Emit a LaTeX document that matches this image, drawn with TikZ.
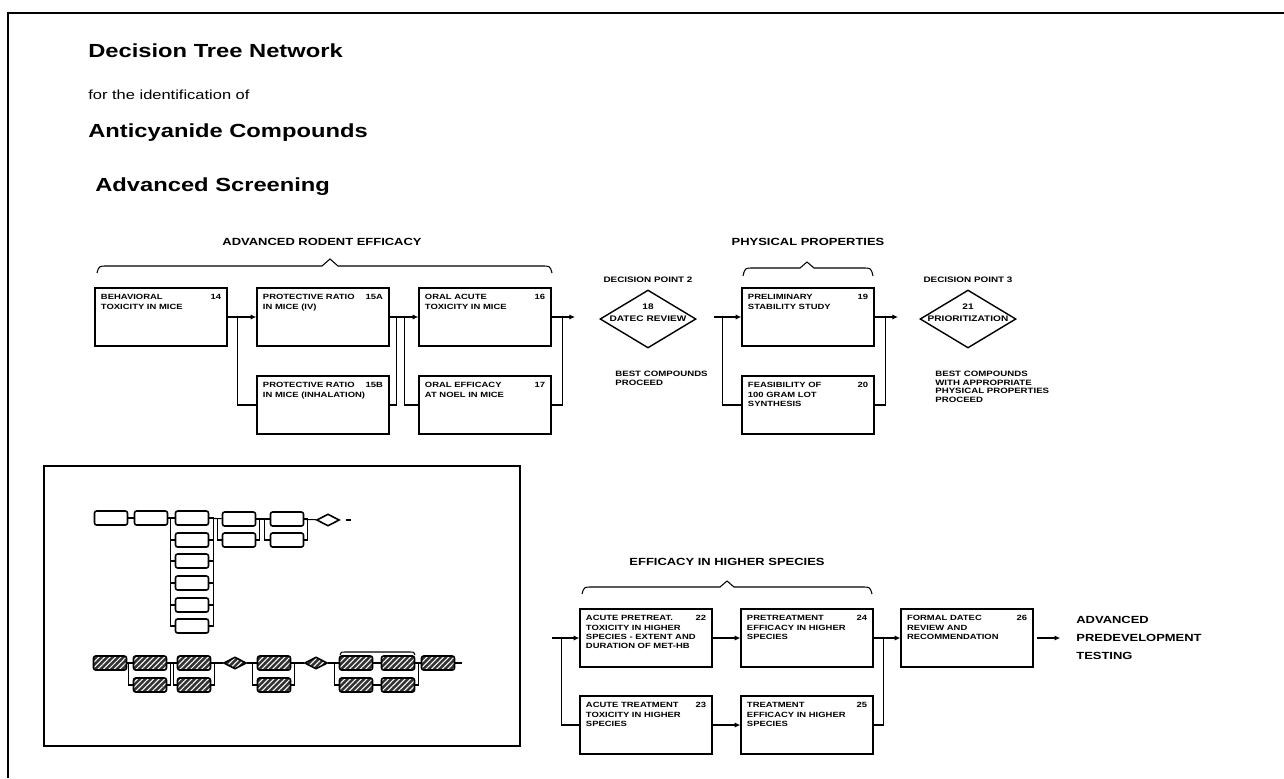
\documentclass[tikz,border=0pt]{standalone}
\usepackage{fontspec}
\setmainfont[FakeStretch=1.25]{Liberation Sans}
\usetikzlibrary{shapes.geometric,arrows.meta,patterns.meta}

\begin{document}
\begin{tikzpicture}[x=0.02cm,y=-0.02cm]
\tikzset{
  stepbox/.style={draw, line width=0.8pt, minimum width=2.64cm, minimum height=1.16cm, inner sep=0pt},
  boxtext/.style={font=\bfseries\fontsize{4.3}{5.2}\selectfont, align=left, inner xsep=3.6pt, inner ysep=4pt},
  decision/.style={draw, diamond, line width=0.8pt, minimum width=1.92cm, minimum height=1.16cm, inner sep=0pt},
  dtext/.style={font=\bfseries\fontsize{4.6}{7.2}\selectfont, align=center, inner sep=0pt},
  dlabel/.style={font=\bfseries\fontsize{4.5}{5}\selectfont, inner sep=0pt, label distance=3.5pt},
  group/.style={font=\bfseries\fontsize{5.9}{7}\selectfont, inner sep=0pt},
  note/.style={font=\bfseries\fontsize{4.4}{4.8}\selectfont, align=left, inner sep=0pt},
  line/.style={line width=0.6pt},
  flow/.style={line width=0.6pt, -{Latex[length=3.2pt,width=3pt]}},
  minibox/.style={draw, line width=0.9pt, rounded corners=1.2pt, minimum width=0.66cm, minimum height=0.28cm, inner sep=0pt},
  hatchbox/.style={minibox, preaction={fill=black!80}, pattern={Lines[angle=45,distance=2.2pt,line width=0.6pt]}, pattern color=white},
  minidia/.style={draw, diamond, line width=0.9pt, minimum width=0.46cm, minimum height=0.24cm, inner sep=0pt},
  hatchdia/.style={minidia, preaction={fill=black!80}, pattern={Lines[angle=45,distance=2.2pt,line width=0.6pt]}, pattern color=white},
}
\useasboundingbox (0,0) rectangle (1284,778);
\draw[line width=1.4pt] (8,778) -- (8,13) -- (1284,13);

% titles
\node[anchor=base west, inner sep=0pt, font=\bfseries\fontsize{10.8}{12}\selectfont] (title) at (88,57) {Decision Tree Network};
\node[anchor=base west, inner sep=0pt, font=\fontsize{7.5}{9}\selectfont] (sub) at (88,99) {for the identification of};
\node[anchor=base west, inner sep=0pt, font=\bfseries\fontsize{10.8}{12}\selectfont] (compounds) at (88,137) {Anticyanide Compounds};
\node[anchor=base west, inner sep=0pt, font=\bfseries\fontsize{10.8}{12}\selectfont] (screening) at (95,191) {Advanced Screening};

% advanced rodent efficacy
\node[group] (rodent) at (322,242) {ADVANCED RODENT EFFICACY};
\draw[line] (97,273) .. controls (99,266) .. (107,266) -- (322,266) -- (330,259) -- (338,266) -- (542,266) .. controls (550,266) .. (552,273);
\node[stepbox, label={[boxtext,anchor=north west]north west:{BEHAVIORAL\\TOXICITY IN MICE}}, label={[boxtext,anchor=north east]north east:14}] (b14) at (161,317) {};
\node[stepbox, label={[boxtext,anchor=north west]north west:{PROTECTIVE RATIO\\IN MICE (IV)}}, label={[boxtext,anchor=north east]north east:15A}] (b15a) at (323,317) {};
\node[stepbox, label={[boxtext,anchor=north west]north west:{PROTECTIVE RATIO\\IN MICE (INHALATION)}}, label={[boxtext,anchor=north east]north east:15B}] (b15b) at (323,405) {};
\node[stepbox, label={[boxtext,anchor=north west]north west:{ORAL ACUTE\\TOXICITY IN MICE}}, label={[boxtext,anchor=north east]north east:16}] (b16) at (485,317) {};
\node[stepbox, label={[boxtext,anchor=north west]north west:{ORAL EFFICACY\\AT NOEL IN MICE}}, label={[boxtext,anchor=north east]north east:17}] (b17) at (485,405) {};
\draw[flow] (b14) -- (b15a);
\draw[line] (b14.east) ++(10,0) |- (b15b.west);
\draw[flow] (b15a) -- (b16);
\draw[line] (b15b.east) -- ++(7,0) |- (b15a.east);
\draw[line] (b16.west) ++(-14,0) |- (b17.west);
\coordinate (o16) at (575,317);
\draw[flow] (b16) -- (o16);
\draw[line] (b17.east) -- ++(11,0) |- (b16.east);

% decision point 2
\node[decision, label={[dlabel]above:DECISION POINT 2}, label={[dtext,yshift=3.5pt]center:{18\\DATEC REVIEW}}] (d18) at (648,319) {};
\node[note, anchor=north west] (best2) at (615,371) {BEST COMPOUNDS\\PROCEED};

% physical properties
\node[group] (physical) at (808,242) {PHYSICAL PROPERTIES};
\draw[line] (743,276) .. controls (745,268) .. (753,268) -- (800,268) -- (807,262) -- (814,268) -- (863,268) .. controls (871,268) .. (873,276);
\node[stepbox, label={[boxtext,anchor=north west]north west:{PRELIMINARY\\STABILITY STUDY}}, label={[boxtext,anchor=north east]north east:19}] (b19) at (808,317) {};
\node[stepbox, label={[boxtext,anchor=north west]north west:{FEASIBILITY OF\\100 GRAM LOT\\SYNTHESIS}}, label={[boxtext,anchor=north east]north east:20}] (b20) at (808,405) {};
\coordinate (i19) at (714,317);
\draw[flow] (i19) -- (b19);
\draw[line] (b19.west) ++(-19,0) |- (b20.west);
\coordinate (o19) at (898,317);
\draw[flow] (b19) -- (o19);
\draw[line] (b20.east) -- ++(11,0) |- (b19.east);

% decision point 3
\node[decision, label={[dlabel]above:DECISION POINT 3}, label={[dtext,yshift=3.5pt]center:{21\\PRIORITIZATION}}] (d21) at (968,319) {};
\node[note, anchor=north west] (best3) at (935,371) {BEST COMPOUNDS\\WITH APPROPRIATE\\PHYSICAL PROPERTIES\\PROCEED};

% overview inset
\draw[line width=1.4pt] (44,466) rectangle (520,746);
\node[minibox] (m1) at (111,518) {};
\node[minibox] (m2) at (151,518) {};
\node[minibox] (m3) at (192,518) {};
\node[minibox] (m4) at (239,519) {};
\node[minibox] (m5) at (287,519) {};
\node[minibox] (m4l) at (239,540) {};
\node[minibox] (m5l) at (287,540) {};
\node[minidia] (md) at (328,520) {};
\foreach \i/\y in {1/540,2/561,3/583,4/605,5/626}{
  \node[minibox] (c\i) at (192,\y) {};
  \draw[line] (c\i.west) -- ++(-4,0) |- (m3.west);
  \draw[line] (c\i.east) -- ++(4,0) |- (m3.east);
}
\draw[line] (m1) -- (m2);
\draw[line] (m2) -- (m3);
\draw[line] (m3) -- (m4);
\draw[line] (m4.west) ++(-4,0) |- (m4l.west);
\draw[line] (m4l.east) -- ++(3,0) |- (m4.east);
\draw[line] (m4) -- (m5);
\draw[line] (m5.west) ++(-5,0) |- (m5l.west);
\draw[line] (m5l.east) -- ++(3,0) |- (m5.east);
\draw[line] (m5) -- (md);
\draw[line] (md.east) ++(6,0) -- ++(5,0);

\node[hatchbox] (h1) at (110,663) {};
\node[hatchbox] (h2) at (150,663) {};
\node[hatchbox] (h2l) at (150,685) {};
\node[hatchbox] (h3) at (194,663) {};
\node[hatchbox] (h3l) at (194,685) {};
\node[hatchdia] (hd1) at (235,663) {};
\node[hatchbox] (h4) at (274,663) {};
\node[hatchbox] (h4l) at (274,685) {};
\node[hatchdia] (hd2) at (316,663) {};
\node[hatchbox] (h5) at (356,663) {};
\node[hatchbox] (h5l) at (356,685) {};
\node[hatchbox] (h6) at (398,663) {};
\node[hatchbox] (h6l) at (398,685) {};
\node[hatchbox] (h7) at (438,663) {};
\draw[line] (h1) -- (h2);
\draw[line] (h2.west) ++(-4,0) |- (h2l.west);
\draw[line] (h2) -- (h3);
\draw[line] (h2l.east) -- ++(3,0) |- (h2.east);
\draw[line] (h3.west) ++(-3,0) |- (h3l.west);
\draw[line] (h3l.east) -- ++(3,0) |- (h3.east);
\draw[line] (h3) -- (hd1);
\draw[line] (hd1) -- (h4);
\draw[line] (h4.west) ++(-4,0) |- (h4l.west);
\draw[line] (h4l.east) -- ++(3,0) |- (h4.east);
\draw[line] (h4) -- (hd2);
\draw[line] (hd2) -- (h5);
\draw[line] (h5.west) ++(-4,0) |- (h5l.west);
\draw[line] (h5) -- (h6);
\draw[line] (h5l) -- (h6l);
\draw[line] (h6l.east) -- ++(3,0) |- (h6.east);
\draw[line] (h6) -- (h7);
\draw[line] (h7.east) -- ++(7,0);
\draw[line] (340,655) .. controls (341,652) .. (345,652) -- (410,652) .. controls (414,652) .. (415,655);

% efficacy in higher species
\node[group] (higher) at (727,562) {EFFICACY IN HIGHER SPECIES};
\draw[line] (582,594) .. controls (584,587) .. (592,587) -- (720,587) -- (727,581) -- (734,587) -- (862,587) .. controls (870,587) .. (872,594);
\node[stepbox, label={[boxtext,anchor=north west]north west:{ACUTE PRETREAT.\\TOXICITY IN HIGHER\\SPECIES - EXTENT AND\\DURATION OF MET-HB}}, label={[boxtext,anchor=north east]north east:22}] (b22) at (646,638) {};
\node[stepbox, label={[boxtext,anchor=north west]north west:{ACUTE TREATMENT\\TOXICITY IN HIGHER\\SPECIES}}, label={[boxtext,anchor=north east]north east:23}] (b23) at (646,725) {};
\node[stepbox, label={[boxtext,anchor=north west]north west:{PRETREATMENT\\EFFICACY IN HIGHER\\SPECIES}}, label={[boxtext,anchor=north east]north east:24}] (b24) at (807,638) {};
\node[stepbox, label={[boxtext,anchor=north west]north west:{TREATMENT\\EFFICACY IN HIGHER\\SPECIES}}, label={[boxtext,anchor=north east]north east:25}] (b25) at (807,725) {};
\node[stepbox, label={[boxtext,anchor=north west]north west:{FORMAL DATEC\\REVIEW AND\\RECOMMENDATION}}, label={[boxtext,anchor=north east]north east:26}] (b26) at (967,638) {};
\node[anchor=west, align=left, inner sep=0pt, font=\bfseries\fontsize{5.9}{10.2}\selectfont] (adv) at (1076,638) {ADVANCED\\PREDEVELOPMENT\\TESTING};
\coordinate (i22) at (552,638);
\draw[flow] (i22) -- (b22);
\draw[line] (b22.west) ++(-18,0) |- (b23.west);
\draw[flow] (b22) -- (b24);
\draw[flow] (b23) -- (b25);
\draw[flow] (b24) -- (b26);
\draw[line] (b25.east) -- ++(10,0) |- (b24.east);
\draw[flow, shorten <=2pt, shorten >=9pt] (b26) -- (adv);
\end{tikzpicture}
\end{document}
